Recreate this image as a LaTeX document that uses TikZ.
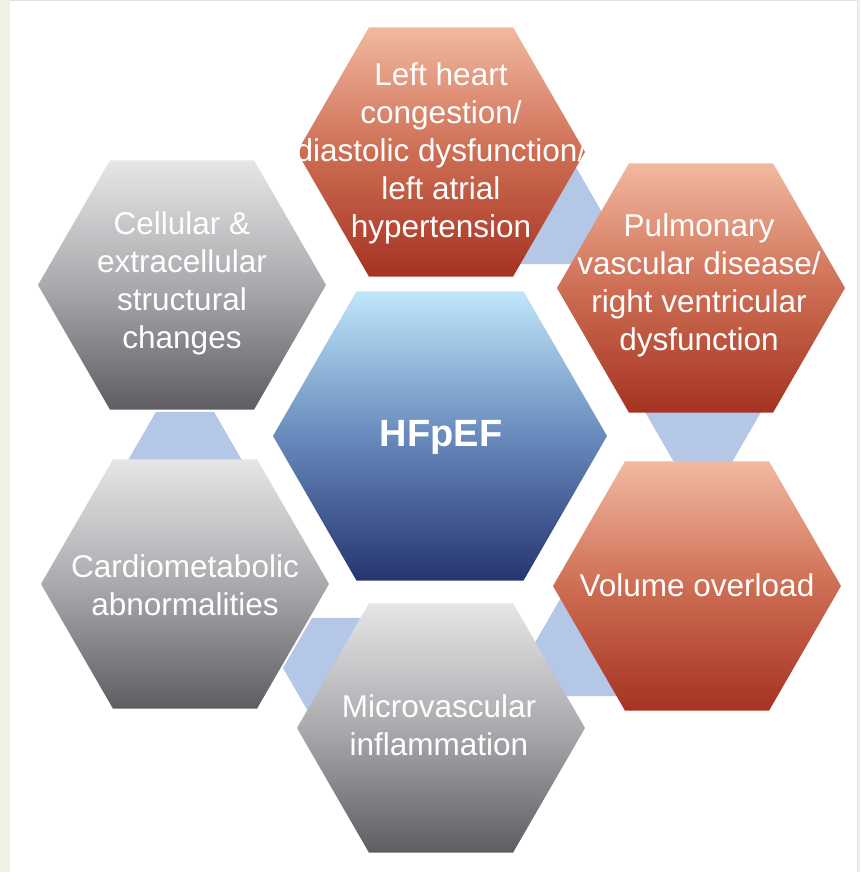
\documentclass[tikz,border=0pt]{standalone}
\usepackage{fontspec}
\setmainfont{Liberation Sans}
\definecolor{creambg}{RGB}{242,241,230}
\definecolor{borderline}{RGB}{225,225,225}
\definecolor{redtop}{RGB}{242,185,160}
\definecolor{redmid}{RGB}{205,110,84}
\definecolor{redbot}{RGB}{166,50,34}
\definecolor{graytop}{RGB}{230,230,232}
\definecolor{graymid}{RGB}{170,170,174}
\definecolor{graybot}{RGB}{94,94,98}
\definecolor{bluetop}{RGB}{192,230,250}
\definecolor{bluemid}{RGB}{104,138,188}
\definecolor{bluebot}{RGB}{38,52,112}
\definecolor{linkblue}{RGB}{180,199,231}
\newcommand{\hexshape}[4]{%
  \path[#1] ({#2+#4},#3) -- ({#2+#4/2},{#3-0.8660254*#4}) -- ({#2-#4/2},{#3-0.8660254*#4})
    -- ({#2-#4},#3) -- ({#2-#4/2},{#3+0.8660254*#4}) -- ({#2+#4/2},{#3+0.8660254*#4}) -- cycle;}
\tikzset{
  redhex/.style={top color=redtop, bottom color=redbot, middle color=redmid},
  grayhex/.style={top color=graytop, bottom color=graybot, middle color=graymid},
  bluehex/.style={top color=bluetop, bottom color=bluebot, middle color=bluemid},
  linkhex/.style={fill=linkblue},
  label/.style={text=white, align=center, inner sep=0pt, font=\fontsize{31.5}{38}\selectfont},
  centerlabel/.style={text=white, align=center, inner sep=0pt, font=\fontsize{38}{44}\selectfont\bfseries}
}
\begin{document}
\begin{tikzpicture}[x=1pt,y=-1pt]
\useasboundingbox (0,0) rectangle (860,872);
\fill[creambg] (0,0) rectangle (860,872);
\fill[white] (10,1) rectangle (857,872);
\draw[borderline, line width=1pt] (10,0.5) -- (857.5,0.5) -- (857.5,872);
% connector hexagons
\hexshape{linkhex}{545}{214}{58}
\hexshape{linkhex}{703}{412}{58}
\hexshape{linkhex}{591}{646}{58}
\hexshape{linkhex}{341}{668}{58}
\hexshape{linkhex}{185}{462}{58}
% main hexagons
\hexshape{bluehex}{440}{436}{167}
\hexshape{redhex}{441}{152}{144}
\hexshape{redhex}{701}{288}{144}
\hexshape{redhex}{697}{586}{144}
\hexshape{grayhex}{441}{728}{144}
\hexshape{grayhex}{185}{584}{144}
\hexshape{grayhex}{182}{285}{144}
% labels
\node[centerlabel] (hfpef) at (441,437) {HFpEF};
\node[label] (lh) at (441,153) {Left heart\\congestion/\\diastolic dysfunction/\\left atrial\\hypertension};
\node[label] (pv) at (699,285) {Pulmonary\\vascular disease/\\right ventricular\\dysfunction};
\node[label] (vo) at (697,585) {Volume overload};
\node[label] (mi) at (439,725) {Microvascular\\inflammation};
\node[label] (cm) at (185,585) {Cardiometabolic\\abnormalities};
\node[label] (ce) at (182,283) {Cellular \&\\extracellular\\structural\\changes};
\end{tikzpicture}
\end{document}
